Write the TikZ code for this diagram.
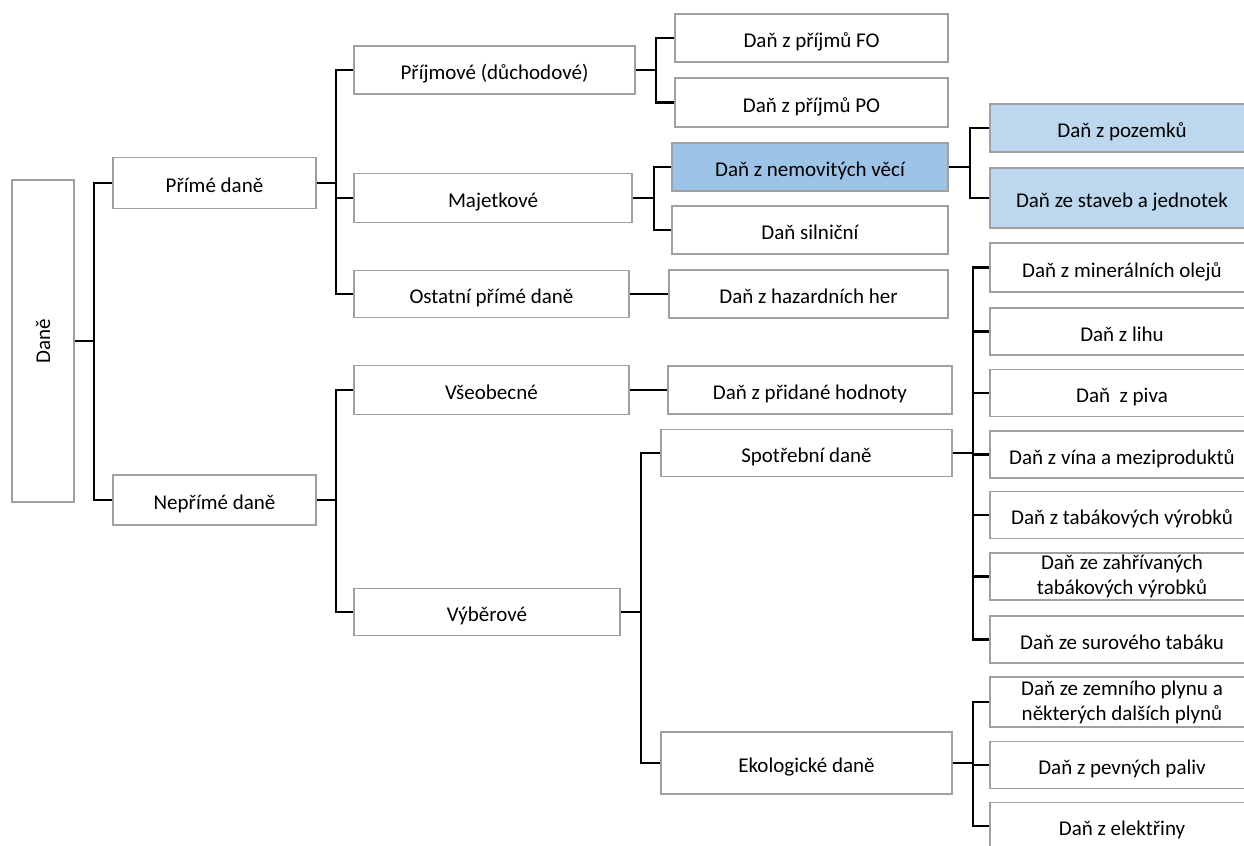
\documentclass[tikz,border=0pt]{standalone}
\usepackage{fontspec}
\setmainfont{Carlito}
\definecolor{txLine}{HTML}{A0A0A0}
\definecolor{txBlue}{HTML}{9DC3E6}
\definecolor{txPale}{HTML}{BDD7EE}
\tikzset{
  tx frame/.style={draw=txLine, fill=white, line width=0.75pt, inner sep=1pt, align=center, font=\fontsize{10.5}{12.5}\selectfont},
  tx box/.style={tx frame, text height=9.6pt, text depth=0pt},
  tx size/.style 2 args={minimum width=#1*0.5pt, minimum height=#2*0.5pt},
  tx leaf/.style={tx box, tx size={264}{#1}},
  tx leaf/.default=47,
  tx twoline/.style={tx frame, tx size={264}{#1}},
  tx link/.style={draw=black, line width=1.25pt},
}
\begin{document}
\begin{tikzpicture}[x=0.5pt,y=-0.5pt]
  \useasboundingbox (0,0) rectangle (1244,846);
  \clip (0,0) rectangle (1244,846);
  \node[tx frame, tx size={62}{322}] (dane) at (43,341) {\rotatebox{90}{Daně}};
  \node[tx box, tx size={203}{51}] (prime) at (214.5,183) {Přímé daně};
  \node[tx box, tx size={203}{50}] (neprime) at (214.5,500) {Nepřímé daně};
  \node[tx box, tx size={281}{48}] (prijmove) at (494.5,70) {Příjmové (důchodové)};
  \node[tx box, tx size={278}{49}] (majetkove) at (493,198) {Majetkové};
  \node[tx box, tx size={275}{47}] (ostatni) at (491.5,294) {Ostatní přímé daně};
  \node[tx box, tx size={275}{49}] (vseobecne) at (491.5,390) {Všeobecné};
  \node[tx box, tx size={266}{47}] (vyberove) at (487,612) {Výběrové};
  \node[tx box, tx size={273}{48}] (fo) at (811.5,38) {Daň z příjmů FO};
  \node[tx box, tx size={273}{49}] (po) at (811.5,102.5) {Daň z příjmů PO};
  \node[tx box, fill=txBlue, tx size={276}{48}] (nemovite) at (810,167) {Daň z nemovitých věcí};
  \node[tx box, tx size={276}{48}] (silnicni) at (810,230) {Daň silniční};
  \node[tx box, tx size={279}{48}] (hazard) at (808.5,294) {Daň z hazardních her};
  \node[tx box, tx size={284}{48}] (dph) at (810,390) {Daň z přidané hodnoty};
  \node[tx box, tx size={291}{47}] (spotrebni) at (806.5,453) {Spotřební daně};
  \node[tx box, tx size={291}{62}] (ekologicke) at (806.5,763) {Ekologické daně};
  \node[tx leaf=48, fill=txPale] (pozemky) at (1122,128) {Daň z pozemků};
  \node[tx leaf=60, fill=txPale] (stavby) at (1122,198) {Daň ze staveb a jednotek};
  \node[tx leaf=49] (oleje) at (1122,267.5) {Daň z minerálních olejů};
  \node[tx leaf] (lih) at (1122,331.5) {Daň z lihu};
  \node[tx leaf] (pivo) at (1122,393) {Daň~ z piva};
  \node[tx leaf] (vino) at (1122,454.5) {Daň z vína a meziproduktů};
  \node[tx leaf] (tabak) at (1122,515) {Daň z tabákových výrobků};
  \node[tx twoline=47] (zahrivane) at (1122,576.5) {Daň ze zahřívaných\\tabákových výrobků};
  \node[tx leaf] (surovy) at (1122,639.5) {Daň ze surového tabáku};
  \node[tx twoline=50] (plyn) at (1122,702) {Daň ze zemního plynu a\\některých dalších plynů};
  \node[tx leaf] (paliva) at (1122,765) {Daň z pevných paliv};
  \node[tx leaf] (elektrina) at (1122,826) {Daň z elektřiny};

  \foreach \c in {prime,neprime}
    \draw[tx link] (dane.east) -- ++(19,0) |- (\c.west);
  \foreach \c in {prijmove,majetkove,ostatni}
    \draw[tx link] (prime.east) -- ++(19,0) |- (\c.west);
  \foreach \c in {vseobecne,vyberove}
    \draw[tx link] (neprime.east) -- ++(19,0) |- (\c.west);
  \foreach \c in {fo,po}
    \draw[tx link] (prijmove.east) -- ++(20,0) |- (\c.west);
  \foreach \c in {nemovite,silnicni}
    \draw[tx link] (majetkove.east) -- ++(21,0) |- (\c.west);
  \draw[tx link] (ostatni.east) -- (hazard.west);
  \draw[tx link] (vseobecne.east) -- (dph.west);
  \foreach \c in {spotrebni,ekologicke}
    \draw[tx link] (vyberove.east) -- ++(20,0) |- (\c.west);
  \foreach \c in {pozemky,stavby}
    \draw[tx link] (nemovite.east) -- ++(21,0) |- (\c.west);
  \foreach \c in {oleje,lih,pivo,vino,tabak,zahrivane,surovy}
    \draw[tx link] (spotrebni.east) -- ++(20,0) |- (\c.west);
  \foreach \c in {plyn,paliva,elektrina}
    \draw[tx link] (ekologicke.east) -- ++(20,0) |- (\c.west);
\end{tikzpicture}
\end{document}
